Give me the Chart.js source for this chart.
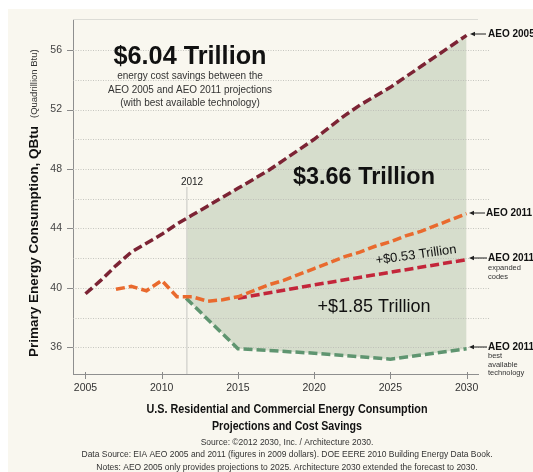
<!DOCTYPE html>
<html lang="en">
<head>
<meta charset="UTF-8">
<title>U.S. Residential and Commercial Energy Consumption</title>
<script src="https://cdn.jsdelivr.net/npm/chart.js"></script>
<style>
  html, body { margin: 0; padding: 0; background: #f9f7ef; overflow: hidden; }
  canvas { display: block; }
</style>
</head>
<body>
<canvas id="myChart" width="533" height="472"></canvas>
<script>
// data (QBtu)
const years2005 = [2005, 2006, 2007, 2008, 2009, 2010, 2011, 2012, 2013, 2014, 2015, 2016, 2017,
                   2018, 2019, 2020, 2021, 2022, 2023, 2024, 2025, 2026, 2027, 2028, 2029, 2030];
const aeo2005 = [39.6, 40.5, 41.5, 42.4, 43.0, 43.6, 44.3, 44.9, 45.5, 46.1, 46.7, 47.3, 47.9,
                 48.6, 49.3, 50.0, 50.8, 51.6, 52.3, 52.9, 53.5, 54.2, 54.9, 55.6, 56.3, 57.0];
const years2011 = [2007, 2008, 2009, 2010, 2011, 2012, 2013, 2014, 2015, 2016, 2017, 2018,
                   2019, 2020, 2021, 2022, 2023, 2024, 2025, 2026, 2027, 2028, 2029, 2030];
const aeo2011 = [39.9, 40.1, 39.8, 40.5, 39.4, 39.4, 39.1, 39.2, 39.4, 39.8, 40.2, 40.5,
                 40.9, 41.3, 41.7, 42.1, 42.4, 42.8, 43.1, 43.5, 43.8, 44.2, 44.6, 45.0];
const yearsCodes = [2015, 2020, 2025, 2030];
const aeoCodes = [39.3, 40.2, 41.05, 41.9];
const yearsBest = [2011.6, 2015, 2020, 2025, 2030];
const aeoBest = [39.3, 35.9, 35.6, 35.2, 35.9];

const xTicks = [2005, 2010, 2015, 2020, 2025, 2030];
const yTicks = [36, 40, 44, 48, 52, 56];
const gridLevels = [36, 38, 40, 42, 44, 46, 48, 50, 52, 54, 56];
const markYear = 2011.65;

const pts = (xs, ys) => xs.map((x, i) => ({ x: x, y: ys[i] }));
const FONT = '"Liberation Sans", Arial, sans-serif';

function txt(ctx, s, x, y, font, color, align, maxW) {
    ctx.font = font;
    ctx.fillStyle = color || '#1a1a1a';
    ctx.textAlign = align || 'center';
    ctx.textBaseline = 'middle';
    if (maxW) ctx.fillText(s, x, y, maxW); else ctx.fillText(s, x, y);
}

function arrowLabel(ctx, x1, x2, y) {
    ctx.strokeStyle = '#222';
    ctx.lineWidth = 1;
    ctx.beginPath();
    ctx.moveTo(x1 + 2, y);
    ctx.lineTo(x2, y);
    ctx.stroke();
    ctx.fillStyle = '#222';
    ctx.beginPath();
    ctx.moveTo(x1, y);
    ctx.lineTo(x1 + 5, y - 2.2);
    ctx.lineTo(x1 + 5, y + 2.2);
    ctx.closePath();
    ctx.fill();
}

const decorPlugin = {
    id: 'decor',
    beforeDraw(chart) {
        const ctx = chart.ctx;
        ctx.save();
        ctx.fillStyle = '#ffffff';
        ctx.fillRect(0, 0, chart.width, chart.height);
        ctx.fillStyle = '#f9f7ef';
        ctx.fillRect(8, 9, chart.width - 8, chart.height - 9);
        ctx.restore();
    },
    beforeDatasetsDraw(chart) {
        const { ctx, chartArea, scales: { x, y } } = chart;
        ctx.save();

        // savings area between AEO 2005 and best available technology
        const top = chart.getDatasetMeta(0).data;
        const bottom = chart.getDatasetMeta(3).data;
        const xl = x.getPixelForValue(markYear);
        const xr = x.getPixelForValue(2030);
        ctx.save();
        ctx.beginPath();
        ctx.rect(xl, chartArea.top, xr - xl, chartArea.bottom - chartArea.top);
        ctx.clip();
        ctx.beginPath();
        top.forEach((p, i) => i ? ctx.lineTo(p.x, p.y) : ctx.moveTo(p.x, p.y));
        for (let i = bottom.length - 1; i >= 0; i--) ctx.lineTo(bottom[i].x, bottom[i].y);
        ctx.closePath();
        ctx.fillStyle = '#d6ddcc';
        ctx.fill();
        ctx.restore();

        // dotted grid
        ctx.strokeStyle = '#b9b9b4';
        ctx.lineWidth = 0.8;
        ctx.setLineDash([1, 1.5]);
        gridLevels.forEach(v => {
            const py = Math.round(y.getPixelForValue(v)) + 0.5;
            ctx.beginPath();
            ctx.moveTo(chartArea.left, py);
            ctx.lineTo(490, py);
            ctx.stroke();
        });
        ctx.setLineDash([]);

        // top frame line
        ctx.strokeStyle = '#dcdcd6';
        ctx.lineWidth = 1;
        ctx.beginPath();
        ctx.moveTo(chartArea.left, chartArea.top + 0.5);
        ctx.lineTo(chartArea.right, chartArea.top + 0.5);
        ctx.stroke();

        // 2012 marker
        ctx.strokeStyle = '#d6d6d0';
        ctx.lineWidth = 1.5;
        ctx.beginPath();
        ctx.moveTo(xl, 187);
        ctx.lineTo(xl, chartArea.bottom);
        ctx.stroke();

        // tick marks
        ctx.strokeStyle = '#8a8a8a';
        ctx.lineWidth = 1;
        yTicks.forEach(v => {
            const py = Math.round(y.getPixelForValue(v)) + 0.5;
            ctx.beginPath();
            ctx.moveTo(chartArea.left - 6, py);
            ctx.lineTo(chartArea.left, py);
            ctx.stroke();
        });
        xTicks.forEach(v => {
            const px = Math.round(x.getPixelForValue(v)) + 0.5;
            ctx.beginPath();
            ctx.moveTo(px, chartArea.bottom - 2);
            ctx.lineTo(px, chartArea.bottom + 5);
            ctx.stroke();
        });
        ctx.restore();
    },
    afterDraw(chart) {
        const ctx = chart.ctx;
        ctx.save();

        // headline annotations
        txt(ctx, '$6.04 Trillion', 190, 57, 'bold 26px ' + FONT, '#111', 'center', 153);
        txt(ctx, 'energy cost savings between the', 190, 76, '10px ' + FONT, '#333', 'center', 146);
        txt(ctx, 'AEO 2005 and AEO 2011 projections', 190, 90, '10px ' + FONT, '#333', 'center', 164);
        txt(ctx, '(with best available technology)', 190, 103, '10px ' + FONT, '#333', 'center', 150);
        txt(ctx, '2012', 192, 182, '10px ' + FONT, '#222', 'center');
        txt(ctx, '$3.66 Trillion', 364, 177, 'bold 24px ' + FONT, '#111', 'center', 142);
        txt(ctx, '+$1.85 Trillion', 374, 307, '18px ' + FONT, '#111', 'center', 119);

        ctx.save();
        ctx.translate(416, 255);
        ctx.rotate(-8 * Math.PI / 180);
        txt(ctx, '+$0.53 Trillion', 0, 0, '13px ' + FONT, '#111', 'center', 92);
        ctx.restore();

        // series labels on the right
        arrowLabel(ctx, 470, 486, 34);
        txt(ctx, 'AEO 2005', 488, 34, 'bold 10px ' + FONT, '#111', 'left');
        arrowLabel(ctx, 469, 485, 213);
        txt(ctx, 'AEO 2011', 486, 213, 'bold 10px ' + FONT, '#111', 'left');
        arrowLabel(ctx, 469, 487, 258);
        txt(ctx, 'AEO 2011', 488, 258, 'bold 10px ' + FONT, '#111', 'left');
        txt(ctx, 'expanded', 488, 268, '7.5px ' + FONT, '#333', 'left');
        txt(ctx, 'codes', 488, 277, '7.5px ' + FONT, '#333', 'left');
        arrowLabel(ctx, 469, 487, 347);
        txt(ctx, 'AEO 2011', 488, 347, 'bold 10px ' + FONT, '#111', 'left');
        txt(ctx, 'best', 488, 356, '7.5px ' + FONT, '#333', 'left');
        txt(ctx, 'available', 488, 364.5, '7.5px ' + FONT, '#333', 'left');
        txt(ctx, 'technology', 488, 373, '7.5px ' + FONT, '#333', 'left');

        // y axis title, bold part plus plain part
        ctx.save();
        ctx.translate(34, 357);
        ctx.rotate(-Math.PI / 2);
        txt(ctx, 'Primary Energy Consumption, QBtu', 0, 0, 'bold 13.5px ' + FONT, '#111', 'left', 235);
        txt(ctx, '(Quadrillion Btu)', 239, 0, '9.5px ' + FONT, '#333', 'left', 88);
        ctx.restore();

        // bottom titles and notes
        txt(ctx, 'U.S. Residential and Commercial Energy Consumption', 287, 410, 'bold 12px ' + FONT, '#111', 'center', 281);
        txt(ctx, 'Projections and Cost Savings', 287, 427, 'bold 12px ' + FONT, '#111', 'center', 150);
        txt(ctx, 'Source: \u00a92012 2030, Inc. / Architecture 2030.', 287, 443, '8.5px ' + FONT, '#333', 'center', 182);
        txt(ctx, 'Data Source: EIA AEO 2005 and 2011 (figures in 2009 dollars). DOE EERE 2010 Building Energy Data Book.', 287, 455, '8.5px ' + FONT, '#333', 'center', 411);
        txt(ctx, 'Notes: AEO 2005 only provides projections to 2025. Architecture 2030 extended the forecast to 2030.', 287, 468, '8.5px ' + FONT, '#333', 'center', 390);
        ctx.restore();
    }
};

const lineStyle = {
    fill: false,
    tension: 0,
    pointRadius: 0,
    borderWidth: 3.5,
    borderDash: [9, 4],
    borderCapStyle: 'butt'
};

const config = {
    type: 'line',
    data: {
        datasets: [
            Object.assign({ label: 'AEO 2005', data: pts(years2005, aeo2005), borderColor: '#7c2334' }, lineStyle),
            Object.assign({ label: 'AEO 2011', data: pts(years2011, aeo2011), borderColor: '#e96a2e' }, lineStyle),
            Object.assign({ label: 'AEO 2011 expanded codes', data: pts(yearsCodes, aeoCodes), borderColor: '#c3263a' }, lineStyle),
            Object.assign({ label: 'AEO 2011 best available technology', data: pts(yearsBest, aeoBest), borderColor: '#5f9570' }, lineStyle)
        ]
    },
    options: {
        responsive: false,
        maintainAspectRatio: false,
        animation: false,
        layout: { padding: { left: 0, top: 19, right: 55, bottom: 0 } },
        plugins: {
            legend: { display: false },
            tooltip: { enabled: false }
        },
        scales: {
            x: {
                type: 'linear',
                min: 2004.18,
                max: 2030.75,
                afterFit: s => { s.height = 98; },
                afterBuildTicks: s => { s.ticks = xTicks.map(v => ({ value: v })); },
                grid: { display: false, drawTicks: false },
                border: { display: true, color: '#8f8f8f', width: 1 },
                ticks: {
                    padding: 8,
                    maxRotation: 0,
                    autoSkip: false,
                    color: '#333',
                    font: { family: FONT, size: 10.5 },
                    callback: v => String(v)
                }
            },
            y: {
                min: 34.2,
                max: 58.1,
                afterFit: s => { s.width = 73; },
                afterBuildTicks: s => { s.ticks = yTicks.map(v => ({ value: v })); },
                grid: { display: false, drawTicks: false },
                border: { display: true, color: '#8f8f8f', width: 1 },
                ticks: {
                    padding: 11,
                    color: '#444',
                    font: { family: FONT, size: 10.5 },
                    callback: v => String(v)
                }
            }
        }
    },
    plugins: [decorPlugin]
};

new Chart(document.getElementById('myChart').getContext('2d'), config);
</script>
</body>
</html>
